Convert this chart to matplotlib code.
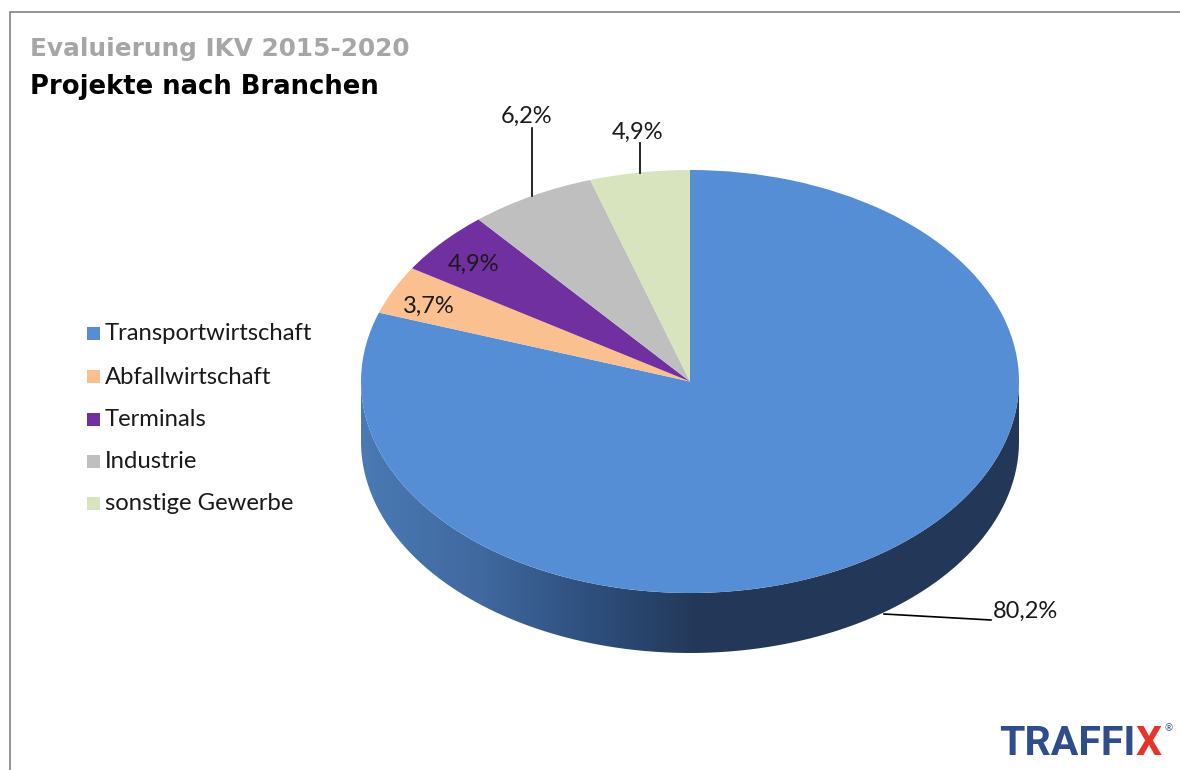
import matplotlib
matplotlib.use('Agg')
import matplotlib.pyplot as plt
from matplotlib.colors import LinearSegmentedColormap
from matplotlib.patches import PathPatch, Rectangle
from matplotlib.path import Path
import numpy as np

branchen = ['Transportwirtschaft', 'Abfallwirtschaft', 'Terminals', 'Industrie', 'sonstige Gewerbe']
anteile = [80.2, 3.7, 4.9, 6.2, 4.9]
anteil_labels = ['80,2%', '3,7%', '4,9%', '6,2%', '4,9%']
farben = ['#558ED5', '#FAC090', '#7030A0', '#BFBFBF', '#D7E4BD']

W, H = 1180, 770
plt.rcParams['font.family'] = ['Lato', 'DejaVu Sans']

# pie ellipse in pixels
cx, cy, a, b, depth = 690, 381.5, 329, 211.5, 60

fig = plt.figure(figsize=(W / 100, H / 100), dpi=100)


def pixel_axes(z):
    ax = fig.add_axes([0, 0, 1, 1], zorder=z)
    ax.set_xlim(0, W)
    ax.set_ylim(H, 0)
    ax.axis('off')
    return ax


bg = pixel_axes(0)
fg = pixel_axes(2)

# side of the cylinder, gradient clipped to the band below the top face
t = np.linspace(0, np.pi, 200)
xs = cx + a * np.cos(t)
lower = cy + b * np.sin(t)
outline = np.vstack([np.column_stack([xs, lower + depth]),
                     np.column_stack([xs[::-1], lower[::-1]])])
cmap = LinearSegmentedColormap.from_list('seite', [(0, '#4A79B3'), (0.35, '#40699F'), (0.65, '#2F5180'),
                                                   (1, '#233858')])
im = bg.imshow(np.clip(np.linspace(0, 1.94, 400), 0, 1)[None, :], cmap=cmap, aspect='auto',
               extent=[cx - a, cx + a, cy + b + depth, cy])
im.set_clip_path(PathPatch(Path(outline), transform=bg.transData))
bg.set_xlim(0, W)
bg.set_ylim(H, 0)

# top face
pie_ax = fig.add_axes([(cx - a) / W, 1 - (cy + b) / H, 2 * a / W, 2 * b / H], zorder=1)
pie_ax.pie(anteile, colors=farben, startangle=90, counterclock=False, radius=1,
           wedgeprops={'linewidth': 0})
pie_ax.set_aspect('auto')
pie_ax.set_xlim(-1, 1)
pie_ax.set_ylim(-1, 1)
pie_ax.patch.set_alpha(0)

# frame
fg.plot([9.5, 9.5, W], [H, 11.5, 11.5], color='#8C8C8C', lw=1.3, solid_joinstyle='miter')

# titles
fg.text(30, 49, 'Evaluierung IKV 2015-2020', fontsize=17.8, fontweight='bold', color='#A6A6A6', va='center',
        family='DejaVu Sans')
fg.text(30, 86.5, 'Projekte nach Branchen', fontsize=18.6, fontweight='bold', color='black', va='center',
        family='DejaVu Sans')

# legend
legend_y = [334, 377, 419.5, 462, 504]
for name, col, y in zip(branchen, farben, legend_y):
    fg.add_patch(Rectangle((87, y - 7), 13, 13, color=col, lw=0))
    fg.text(105, y, name, fontsize=17.2, color='#1A1A1A', va='center')

# value labels and leader lines
label_pos = [(1025.5, 611), (429, 306), (474, 264), (527, 116), (638, 132)]
for lab, (x, y) in zip(anteil_labels, label_pos):
    fg.text(x, y, lab, fontsize=17, color='#1A1A1A', ha='center', va='center')
fg.plot([531.5, 531.5], [128, 196], color='black', lw=1.2)
fg.plot([639.5, 639.5], [143, 173], color='black', lw=1.2)
fg.plot([884, 991], [614, 620], color='black', lw=1.2)

# logo
fg.text(1136, 744, 'TRAFFI', fontsize=29.5, fontweight='bold', color='#2F4D8C', family='Roboto',
        ha='right', va='center')
fg.text(1136, 744, 'X', fontsize=29.5, fontweight='bold', color='#E8332A', family='Roboto',
        ha='left', va='center')
fg.text(1169, 729, '®', fontsize=7, color='#2F4D8C', ha='center', va='center')

fig.savefig('out.png', dpi=100)
